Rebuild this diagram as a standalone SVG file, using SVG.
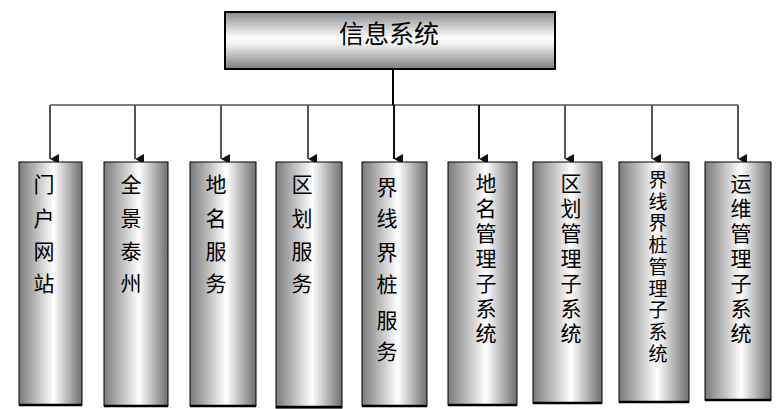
<svg xmlns="http://www.w3.org/2000/svg" width="777" height="409" viewBox="0 0 777 409">
<defs>
<linearGradient id="gTop" x1="0" y1="0" x2="0" y2="1">
<stop offset="0" stop-color="#8a8a8a"/>
<stop offset="0.45" stop-color="#ffffff"/>
<stop offset="0.55" stop-color="#f4f4f4"/>
<stop offset="1" stop-color="#7e7e7e"/>
</linearGradient>
<linearGradient id="gCol" x1="0" y1="0" x2="1" y2="0">
<stop offset="0" stop-color="#7a7a7a"/>
<stop offset="0.55" stop-color="#ffffff"/>
<stop offset="1" stop-color="#6e6e6e"/>
</linearGradient>
<marker id="ah" markerUnits="userSpaceOnUse" markerWidth="12" markerHeight="12" viewBox="0 0 12 12" refX="6" refY="10" orient="auto-start-reverse">
<path d="M1,1 L11,1 L6,10 Z" fill="#111"/>
</marker>
</defs>
<style>
.col{fill:url(#gCol);stroke:#000;stroke-width:1}
.bot{stroke:#000;stroke-width:2.5}
.t{font-family:"Noto Sans CJK SC","Noto Sans CJK JP",sans-serif;fill:#000;text-anchor:middle}
.t4{font-size:21px}
.t7{font-size:21px}
.t9{font-size:19px}
.g{stroke:#555;stroke-width:2;fill:none}
.k{stroke:#111;stroke-width:2;fill:none}
</style>
<rect width="777" height="409" fill="#fff"/>
<g id="connectors">
<line x1="393" y1="69" x2="393" y2="105" stroke="#000" stroke-width="2"/>
<line x1="50" y1="105" x2="738" y2="105" stroke="#000" stroke-width="1"/>
<line class="g" x1="50" y1="105" x2="50" y2="159" marker-end="url(#ah)"/>
<line class="g" x1="135" y1="105" x2="135" y2="159" marker-end="url(#ah)"/>
<line class="g" x1="221" y1="105" x2="221" y2="159" marker-end="url(#ah)"/>
<line class="g" x1="308" y1="105" x2="308" y2="159" marker-end="url(#ah)"/>
<line class="k" x1="394" y1="105" x2="394" y2="159" marker-end="url(#ah)"/>
<line class="k" x1="479" y1="105" x2="479" y2="159" marker-end="url(#ah)"/>
<line class="g" x1="565" y1="105" x2="565" y2="159" marker-end="url(#ah)"/>
<line class="g" x1="652" y1="105" x2="652" y2="159" marker-end="url(#ah)"/>
<line class="g" x1="738" y1="105" x2="738" y2="159" marker-end="url(#ah)"/>
</g>
<g id="root">
<rect x="225" y="12" width="330" height="57" fill="url(#gTop)" stroke="#000" stroke-width="2"/>
<text class="t" x="389" y="43" font-size="25">信息系统</text>
</g>
<g id="n1">
<rect class="col" x="19" y="162" width="63" height="243"/>
<line class="bot" x1="19" y1="405" x2="82" y2="405"/>
<text class="t t4" x="44"><tspan x="44" y="192">门</tspan><tspan x="44" y="226">户</tspan><tspan x="44" y="259">网</tspan><tspan x="44" y="291">站</tspan></text>
</g>
<g id="n2">
<rect class="col" x="104" y="162" width="64" height="244"/>
<line class="bot" x1="104" y1="406" x2="168" y2="406"/>
<text class="t t4" x="131"><tspan x="131" y="192">全</tspan><tspan x="131" y="226">景</tspan><tspan x="131" y="259">泰</tspan><tspan x="131" y="291">州</tspan></text>
</g>
<g id="n3">
<rect class="col" x="190" y="162" width="66" height="244"/>
<line class="bot" x1="190" y1="406" x2="256" y2="406"/>
<text class="t t4" x="216"><tspan x="216" y="192">地</tspan><tspan x="216" y="226">名</tspan><tspan x="216" y="259">服</tspan><tspan x="216" y="291">务</tspan></text>
</g>
<g id="n4">
<rect class="col" x="276" y="162" width="66" height="246"/>
<line class="bot" x1="276" y1="407" x2="342" y2="407"/>
<text class="t t4" x="302"><tspan x="302" y="192">区</tspan><tspan x="302" y="226">划</tspan><tspan x="302" y="259">服</tspan><tspan x="302" y="291">务</tspan></text>
</g>
<g id="n5">
<rect class="col" x="362" y="162" width="65" height="244"/>
<line class="bot" x1="362" y1="406" x2="427" y2="406"/>
<text class="t t4" x="387"><tspan x="387" y="195">界</tspan><tspan x="387" y="226">线</tspan><tspan x="387" y="260">界</tspan><tspan x="387" y="292">桩</tspan><tspan x="387" y="328">服</tspan><tspan x="387" y="359">务</tspan></text>
</g>
<g id="n6">
<rect class="col" x="448" y="162" width="69" height="243"/>
<line class="bot" x1="448" y1="405" x2="517" y2="405"/>
<text class="t t7" x="486"><tspan x="486" y="191">地</tspan><tspan x="486" y="216">名</tspan><tspan x="486" y="241">管</tspan><tspan x="486" y="266">理</tspan><tspan x="486" y="291">子</tspan><tspan x="486" y="316">系</tspan><tspan x="486" y="341">统</tspan></text>
</g>
<g id="n7">
<rect class="col" x="533" y="162" width="69" height="241"/>
<line class="bot" x1="533" y1="403" x2="602" y2="403"/>
<text class="t t7" x="571"><tspan x="571" y="191">区</tspan><tspan x="571" y="216">划</tspan><tspan x="571" y="241">管</tspan><tspan x="571" y="266">理</tspan><tspan x="571" y="291">子</tspan><tspan x="571" y="316">系</tspan><tspan x="571" y="341">统</tspan></text>
</g>
<g id="n8">
<rect class="col" x="619" y="162" width="70" height="240"/>
<line class="bot" x1="619" y1="402" x2="689" y2="402"/>
<text class="t t9" x="658"><tspan x="658" y="187">界</tspan><tspan x="658" y="208.7">线</tspan><tspan x="658" y="230.4">界</tspan><tspan x="658" y="252.1">桩</tspan><tspan x="658" y="273.8">管</tspan><tspan x="658" y="295.5">理</tspan><tspan x="658" y="317.2">子</tspan><tspan x="658" y="338.9">系</tspan><tspan x="658" y="360.6">统</tspan></text>
</g>
<g id="n9">
<rect class="col" x="705" y="162" width="66" height="238"/>
<line class="bot" x1="705" y1="400" x2="771" y2="400"/>
<text class="t t7" x="741"><tspan x="741" y="191">运</tspan><tspan x="741" y="216">维</tspan><tspan x="741" y="241">管</tspan><tspan x="741" y="266">理</tspan><tspan x="741" y="291">子</tspan><tspan x="741" y="316">系</tspan><tspan x="741" y="341">统</tspan></text>
</g>
</svg>
